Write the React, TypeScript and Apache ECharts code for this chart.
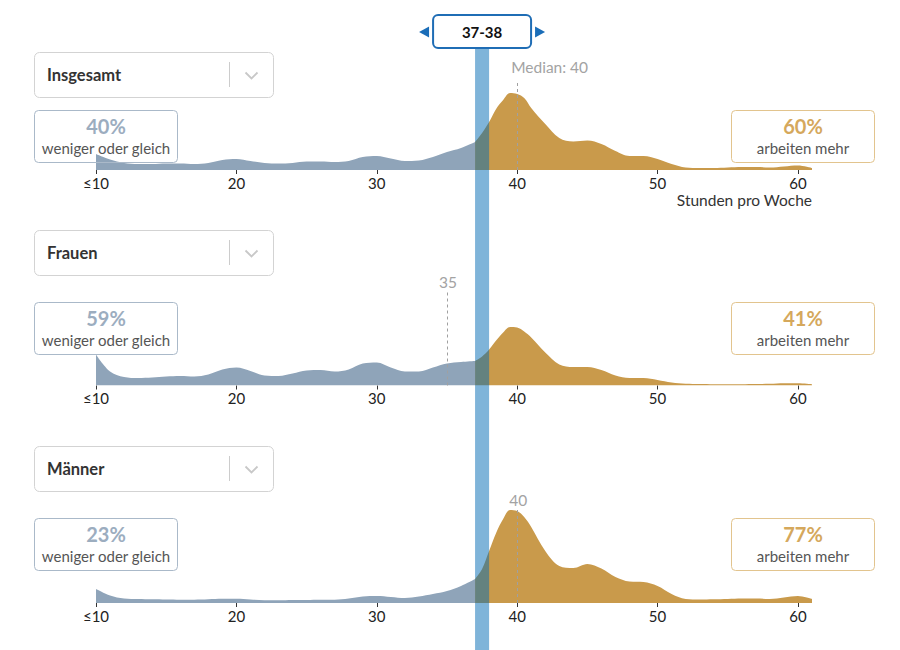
import React, { useEffect, useRef } from "react";
import * as echarts from "echarts";

// Working hours (x positions of the density estimates)
const HOURS = [
  10, 11, 12, 13, 14, 15, 16, 17, 18, 19, 20, 21, 22, 23, 24, 25, 26, 27, 28, 29,
  30, 31, 32, 33, 34, 35, 36, 37, 37.5, 38, 38.5, 39, 39.5, 40, 40.5, 41,
  42, 43, 44, 45, 46, 47, 48, 49, 50, 51, 52, 53, 54, 55, 56, 57, 58, 59, 60, 61,
];

const GROUPS = ["Insgesamt", "Frauen", "Männer"];

// Relative density
const DENSITY_ALL = [
  16, 10.5, 7, 6, 6, 6.5, 6.5, 6, 7, 10, 11, 9, 7, 6.5, 7, 8.5, 8.5, 8, 9, 13,
  14, 11.5, 9, 9.5, 13, 18, 22, 28, 37, 48, 61, 70, 77, 76, 72, 62,
  46, 32, 28.5, 29.5, 26, 19, 14, 14, 11, 6, 2.5, 2, 2, 2.5, 3, 3, 2.5, 3.5, 4.5, 2,
];
const DENSITY_WOMEN = [
  31, 14, 8.5, 7.5, 8, 9, 9.5, 9, 11, 16, 18, 14.5, 10, 9.5, 12, 15, 15.5, 14, 16, 22,
  23, 18, 14, 14, 18, 22, 23.5, 24.5, 29, 36, 45, 53, 58.5, 58, 54, 48,
  33, 21, 18.5, 18.5, 15.5, 10, 7.5, 7.5, 5.5, 3, 1.7, 1.5, 1.3, 1.3, 1.3, 1.5, 1.7, 2.3, 2.3, 1.3,
];
const DENSITY_MEN = [
  14, 7.5, 4.5, 4, 3.7, 3.5, 3.3, 3.3, 3.7, 4.2, 4.3, 3.5, 2.8, 2.7, 3, 3, 3.2, 3.3, 4.5, 6.5,
  7, 6, 5, 6.5, 9, 12, 17, 24, 34, 52, 70, 84, 93, 92, 86, 76,
  52, 37, 35, 39, 34.5, 26, 21.5, 21, 17, 9, 4, 3.5, 3.7, 4, 4.5, 4.5, 4, 5.5, 7, 4,
];

const SHARE_LESS = [40, 59, 23];
const SHARE_MORE = [60, 41, 77];
const REF_VALUES = [40, 35, 40];
const REF_LABELS = ["Median: 40", "35", "40"];
const REF_TOP = [88, 93.5, 93];
const SELECTED = [37, 38];
const X_TICKS = [10, 20, 30, 40, 50, 60];
const X_MIN = 10;
const X_MAX = 61;

const FONT = "Lato, 'Noto Sans', sans-serif";
const GREY = "#8fa4b9";
const GOLD = "#c99a4b";

// layout
const GRID_LEFT = 96;
const GRID_RIGHT = 88;
const GRID_TOP = [70, 285.5, 503];
const DROPDOWN_Y = [52, 230, 446];
const BOX_Y = [110, 302, 518];

export default function App() {
  const ref = useRef<HTMLDivElement>(null);

  useEffect(() => {
    const el = ref.current!;
    const chart = echarts.init(el, null, { renderer: "svg" });
    const densities = [DENSITY_ALL, DENSITY_WOMEN, DENSITY_MEN];

    const grids: any[] = [];
    const xAxes: any[] = [];
    const yAxes: any[] = [];
    const series: any[] = [];

    GRID_TOP.forEach((top, i) => {
      grids.push({ left: GRID_LEFT, right: GRID_RIGHT, top, height: 100 });
      xAxes.push({
        type: "value",
        gridIndex: i,
        min: X_MIN,
        max: X_MAX,
        axisLine: { show: false },
        splitLine: { show: false },
        axisTick: {
          show: true,
          length: 4,
          customValues: X_TICKS,
          lineStyle: { color: "#333", width: 1 },
        },
        axisLabel: {
          customValues: X_TICKS,
          formatter: (v: number) => (v === 10 ? "≤10" : String(v)),
          color: "#222",
          fontSize: 15,
          fontFamily: FONT,
          margin: 5,
        },
      });
      yAxes.push({ type: "value", gridIndex: i, min: 0, max: 100, show: false });
      const d = densities[i];
      const pts = HOURS.map((h, k) => [h, d[k]]);
      const common = {
        type: "line",
        xAxisIndex: i,
        yAxisIndex: i,
        smooth: 0.35,
        showSymbol: false,
        symbol: "none",
        silent: true,
        lineStyle: { width: 0, opacity: 0 },
      };
      series.push({
        ...common,
        data: pts.filter((p) => p[0] <= SELECTED[0]),
        areaStyle: { color: GREY, opacity: 1 },
        z: 2,
      });
      series.push({
        ...common,
        data: pts.filter((p) => p[0] >= SELECTED[0]),
        areaStyle: { color: GOLD, opacity: 1 },
        z: 3,
        markLine: {
          silent: true,
          symbol: ["none", "none"],
          label: { show: false },
          lineStyle: { type: [3, 3], color: "#a0a0a0", width: 1 },
          data: [[{ coord: [REF_VALUES[i], 0] }, { coord: [REF_VALUES[i], REF_TOP[i]] }]],
        },
      });
    });

    // overlay grid for the selected-hours bar
    grids.push({ left: GRID_LEFT, right: GRID_RIGHT, top: 48, bottom: 0 });
    xAxes.push({ type: "value", gridIndex: 3, min: X_MIN, max: X_MAX, show: false });
    yAxes.push({ type: "value", gridIndex: 3, min: 0, max: 1, show: false });
    series.push({
      type: "custom",
      xAxisIndex: 3,
      yAxisIndex: 3,
      silent: true,
      z: 10,
      data: [[SELECTED[0], SELECTED[1]]],
      renderItem: (_p: any, api: any) => {
        const a = api.coord([api.value(0), 1]);
        const b = api.coord([api.value(1), 0]);
        return {
          type: "rect",
          shape: { x: a[0], y: a[1], width: b[0] - a[0], height: b[1] - a[1] },
          style: { fill: "rgba(0,105,180,0.5)" },
        };
      },
    });

    chart.setOption({
      animation: false,
      grid: grids,
      xAxis: xAxes,
      yAxis: yAxes,
      series,
    });

    const px = (v: number) => chart.convertToPixel({ xAxisIndex: 0 }, v) as number;
    const py = (i: number, v: number) =>
      chart.convertToPixel({ yAxisIndex: i }, v) as number;

    const g: any[] = [];
    GROUPS.forEach((name, i) => {
      const dy = DROPDOWN_Y[i];
      g.push({
        type: "rect",
        shape: { x: 34.5, y: dy + 0.5, width: 239, height: 45, r: 5 },
        style: { fill: "#fff", stroke: "#d3d3d3", lineWidth: 1 },
      });
      g.push({
        type: "text",
        x: 47,
        y: dy + 23,
        style: {
          text: name,
          fontFamily: FONT,
          fontWeight: "bold",
          fontSize: 16.5,
          fill: "#333",
          verticalAlign: "middle",
        },
      });
      g.push({
        type: "line",
        shape: { x1: 229.5, y1: dy + 10, x2: 229.5, y2: dy + 35 },
        style: { stroke: "#cccccc", lineWidth: 1 },
      });
      g.push({
        type: "polyline",
        shape: { points: [[245.5, dy + 20.5], [251.5, dy + 26.5], [257.5, dy + 20.5]] },
        style: { stroke: "#c8c8c8", lineWidth: 1.8, fill: "none" },
      });

      const by = BOX_Y[i];
      // left box
      g.push({
        type: "rect",
        shape: { x: 34.5, y: by + 0.5, width: 143, height: 52, r: 4 },
        style: { fill: "rgba(255,255,255,0)", stroke: "#aab9c9", lineWidth: 1 },
        z: 20,
      });
      g.push({
        type: "text",
        x: 106,
        y: by + 16,
        z: 20,
        style: {
          text: SHARE_LESS[i] + "%",
          fontFamily: FONT,
          fontWeight: "bold",
          fontSize: 20,
          fill: "#9cadbf",
          align: "center",
          verticalAlign: "middle",
        },
      });
      g.push({
        type: "text",
        x: 106,
        y: by + 38,
        z: 20,
        style: {
          text: "weniger oder gleich",
          fontFamily: FONT,
          fontSize: 15,
          fill: "#555",
          align: "center",
          verticalAlign: "middle",
        },
      });
      // right box
      g.push({
        type: "rect",
        shape: { x: 731.5, y: by + 0.5, width: 143, height: 52, r: 4 },
        style: { fill: "rgba(255,255,255,0)", stroke: "#e2c48e", lineWidth: 1 },
        z: 20,
      });
      g.push({
        type: "text",
        x: 803,
        y: by + 16,
        z: 20,
        style: {
          text: SHARE_MORE[i] + "%",
          fontFamily: FONT,
          fontWeight: "bold",
          fontSize: 20,
          fill: "#d5a85c",
          align: "center",
          verticalAlign: "middle",
        },
      });
      g.push({
        type: "text",
        x: 803,
        y: by + 38,
        z: 20,
        style: {
          text: "arbeiten mehr",
          fontFamily: FONT,
          fontSize: 15,
          fill: "#555",
          align: "center",
          verticalAlign: "middle",
        },
      });

      // reference label
      const rx = px(REF_VALUES[i]);
      const ry = py(i, REF_TOP[i]);
      const isMedian = i === 0;
      g.push({
        type: "text",
        x: isMedian ? rx - 6 : rx + 1,
        y: ry - (isMedian ? 15 : 10),
        style: {
          text: REF_LABELS[i],
          fontFamily: FONT,
          fontSize: 15.5,
          fill: "#a3a3a3",
          align: isMedian ? "left" : "center",
          verticalAlign: "middle",
        },
      });
    });

    // axis title
    g.push({
      type: "text",
      x: px(X_MAX),
      y: py(0, 0) + 30,
      style: {
        text: "Stunden pro Woche",
        fontFamily: FONT,
        fontSize: 15.5,
        fill: "#333",
        align: "right",
        verticalAlign: "middle",
      },
    });

    // selector on top
    const cx = (px(SELECTED[0]) + px(SELECTED[1])) / 2;
    g.push({
      type: "rect",
      shape: { x: cx - 49, y: 15, width: 98, height: 33, r: 5 },
      style: { fill: "#fff", stroke: "#1f6db5", lineWidth: 2 },
      z: 30,
    });
    g.push({
      type: "text",
      x: cx,
      y: 32,
      z: 31,
      style: {
        text: SELECTED[0] + "-" + SELECTED[1],
        fontFamily: FONT,
        fontWeight: "bold",
        fontSize: 15,
        fill: "#111",
        align: "center",
        verticalAlign: "middle",
      },
    });
    g.push({
      type: "polygon",
      shape: { points: [[cx - 63, 32], [cx - 53, 26.5], [cx - 53, 37.5]] },
      style: { fill: "#1a6db8" },
      z: 30,
    });
    g.push({
      type: "polygon",
      shape: { points: [[cx + 63, 32], [cx + 53, 26.5], [cx + 53, 37.5]] },
      style: { fill: "#1a6db8" },
      z: 30,
    });

    chart.setOption({ graphic: g });

    return () => chart.dispose();
  }, []);

  return (
    <div
      ref={ref}
      style={{ position: "fixed", left: 0, top: 0, width: 900, height: 650, background: "#fff" }}
    />
  );
}
